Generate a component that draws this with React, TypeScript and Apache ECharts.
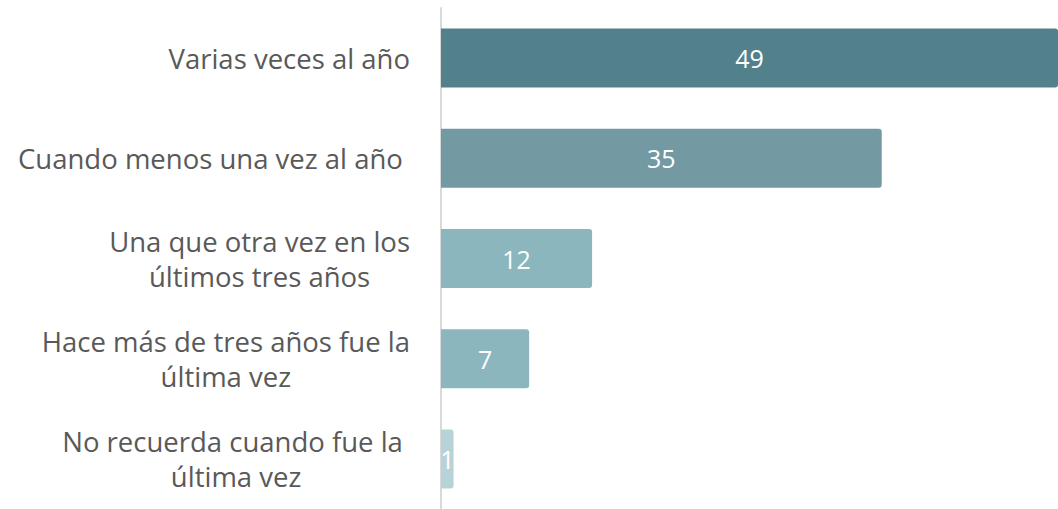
import React, { useEffect, useRef } from "react";
import * as echarts from "echarts";

const categories = [
  "Varias veces al año",
  "Cuando menos una vez al año ",
  "Una que otra vez en los\núltimos tres años",
  "Hace más de tres años fue la\núltima vez",
  "No recuerda cuando fue la \núltima vez",
];
const values = [49, 35, 12, 7, 1];
const barColors = ["#53818B", "#7399A2", "#8BB6BD", "#8BB6BD", "#B8D3D8"];

const FONT = "Open Sans";

export default function App() {
  const ref = useRef<HTMLDivElement>(null);
  useEffect(() => {
    document.body.style.margin = "0";
    if (!ref.current) return;
    const chart = echarts.init(ref.current, undefined, { renderer: "svg" });
    chart.setOption({
      animation: false,
      grid: { left: 441, right: 0, top: 8, bottom: -4, containLabel: false },
      xAxis: {
        type: "value",
        min: 0,
        max: 49,
        show: false,
      },
      yAxis: {
        type: "category",
        inverse: true,
        data: categories,
        axisLine: { show: true, lineStyle: { color: "#D9D9D9", width: 2 } },
        axisTick: { show: false },
        splitLine: { show: false },
        axisLabel: {
          margin: 31,
          align: "right",
          formatter: (v: string) =>
            v
              .split("\n")
              .map((l) => `{c|${l}}`)
              .join("\n"),
          rich: {
            c: {
              align: "center",
              fontFamily: FONT,
              fontSize: 27.5,
              color: "#595959",
              lineHeight: 35,
            },
          },
        },
      },
      series: [
        {
          type: "bar",
          barWidth: 59,
          data: values.map((v, i) => ({
            value: v,
            itemStyle: { color: barColors[i], borderRadius: [0, 3, 3, 0] },
          })),
          label: {
            show: true,
            position: "inside",
            color: "#FFFFFF",
            fontFamily: FONT,
            fontSize: 25,
          },
        },
      ],
    });
    return () => chart.dispose();
  }, []);
  return <div ref={ref} style={{ width: 1058, height: 509 }} />;
}
